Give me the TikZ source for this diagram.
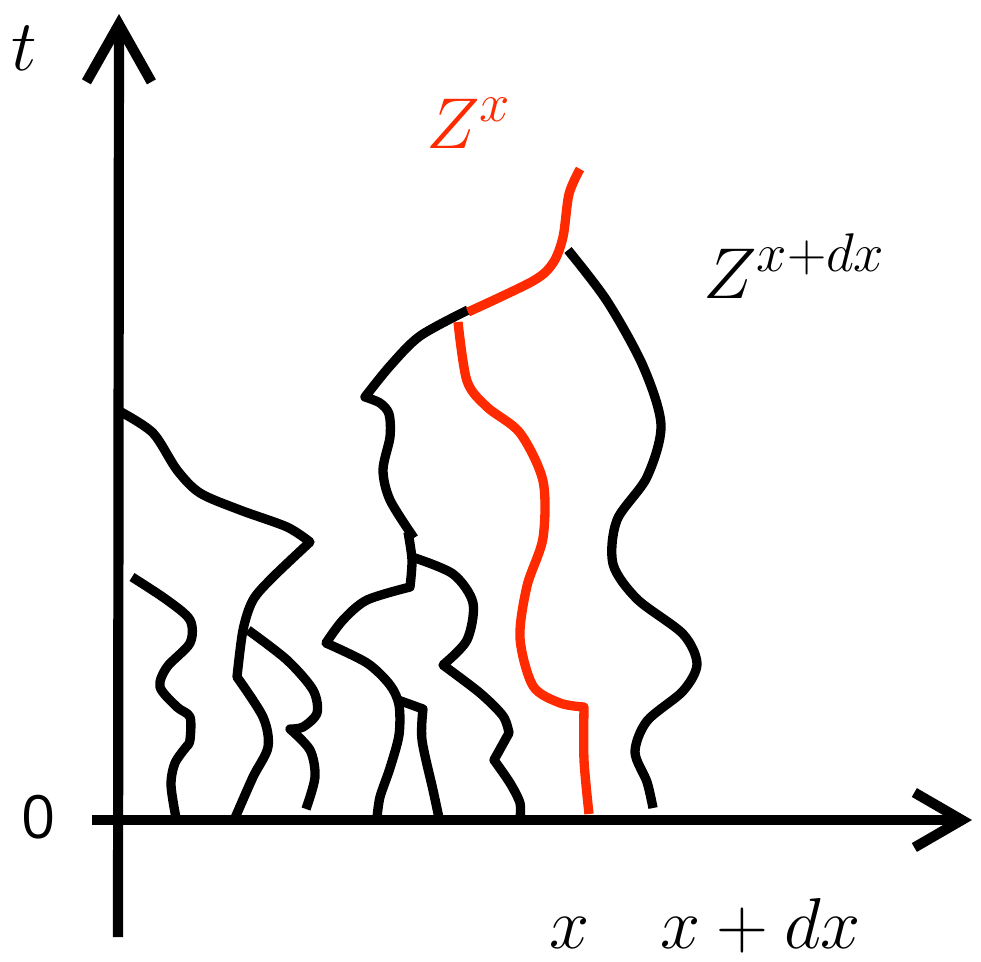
\RequirePackage{fix-cm}
\documentclass[tikz,border=0pt]{standalone}
\usepackage{fontspec}
\usetikzlibrary{arrows.meta}
\newfontfamily\zerofont{Open Sans}
\definecolor{zred}{RGB}{255,42,0}
\DeclareMathSizes{41}{41}{31}{22}

\begin{document}
\begin{tikzpicture}[x=0.02cm, y=-0.02cm,
  axis/.style={line width=5.8pt},
  path/.style={line width=5.3pt, line join=round},
  redpath/.style={path, draw=zred},
  lab/.style={anchor=base west, inner sep=0pt, font=\fontsize{41}{48}\selectfont}]
\useasboundingbox (0,0) rectangle (981,961);

% ejes
\coordinate (tlow) at (118,937);
\coordinate (ttop) at (119,14);
\coordinate (xlow) at (92,820);
\coordinate (xtop) at (972,820);
\draw[axis, -{Straight Barb[length=1.15cm, width=1.3cm]}] (tlow) -- (ttop);
\draw[axis, -{Straight Barb[length=0.95cm, width=1.1cm]}] (xlow) -- (xtop);

% etiquetas
\node[lab] (tlab) at (11,70) {$t$};
\node[lab, font=\zerofont\fontsize{34}{40}\selectfont] (zerolab) at (21,838) {0};
\node[lab] (xlab) at (549,948) {$x$};
\node[lab] (xdxlab) at (660,948) {$x+dx$};
\node[lab, text=zred] (zxlab) at (426,148) {$Z^x$};
\node[lab] (zxdxlab) at (703,298) {$Z^{x+dx}$};

% ramas de la izquierda
\draw[path] plot[smooth] coordinates {(121,412) (153,433) (177,470) (200,493) (240,510) (287,527) (310,542)}
  -- plot[smooth] coordinates {(310,542) (273,577) (253,600) (243,630) (237,677)}
  -- plot[smooth] coordinates {(237,677) (263,717) (268,747) (253,777) (235,818)};
\draw[path] plot[smooth] coordinates {(248,630) (287,660) (313,690) (317,713) (303,727) (290,729)}
  -- plot[smooth] coordinates {(290,729) (310,750) (315,777) (306,809)};
\draw[path] plot[smooth] coordinates {(132,577) (167,600) (190,620) (190,643) (167,667) (160,687) (177,707) (190,717) (190,740) (187,746)}
  -- plot[smooth] coordinates {(187,746) (175,763) (171,785) (176,818)};

% ramas del centro
\draw[path] plot[smooth] coordinates {(468,310) (420,336) (390,366) (365,397)}
  -- plot[smooth] coordinates {(365,397) (380,403) (389,414) (390,437) (383,470) (390,500) (414,538)};
\draw[path] plot[smooth] coordinates {(408,532) (412,560) (410,587)}
  -- plot[smooth] coordinates {(410,587) (367,600) (343,620) (326,643)}
  -- plot[smooth] coordinates {(326,643) (367,663) (390,685) (399,705) (399,735) (390,768) (380,797) (377,818)};
\draw[path] plot[smooth] coordinates {(412,557) (453,574) (473,603) (467,640) (443,665)}
  -- plot[smooth] coordinates {(443,665) (480,693) (503,716) (509,733)}
  -- (494,760) -- plot[smooth] coordinates {(494,760) (510,783) (520,803) (520,818)};
\draw[path] (398,700) -- plot[smooth] coordinates {(423,709) (422,740) (433,790) (439,818)};

% rama de la derecha
\draw[path] plot[smooth] coordinates {(568,250) (607,301) (643,366) (661,425) (647,477) (617,520) (613,564) (637,599) (683,634) (697,664) (683,691) (647,721) (635,752) (647,782) (653,808)};

% Z^x
\draw[redpath] plot[smooth] coordinates {(580,169) (569,194) (563,237) (553,263) (533,281) (468,312)};
\draw[redpath] plot[smooth] coordinates {(458,322) (467,381) (487,407) (520,433) (543,481) (543,538) (527,586) (520,638) (533,686) (560,703) (584,707)}
  -- plot[smooth] coordinates {(584,707) (584,760) (589,814)};
\end{tikzpicture}
\end{document}
